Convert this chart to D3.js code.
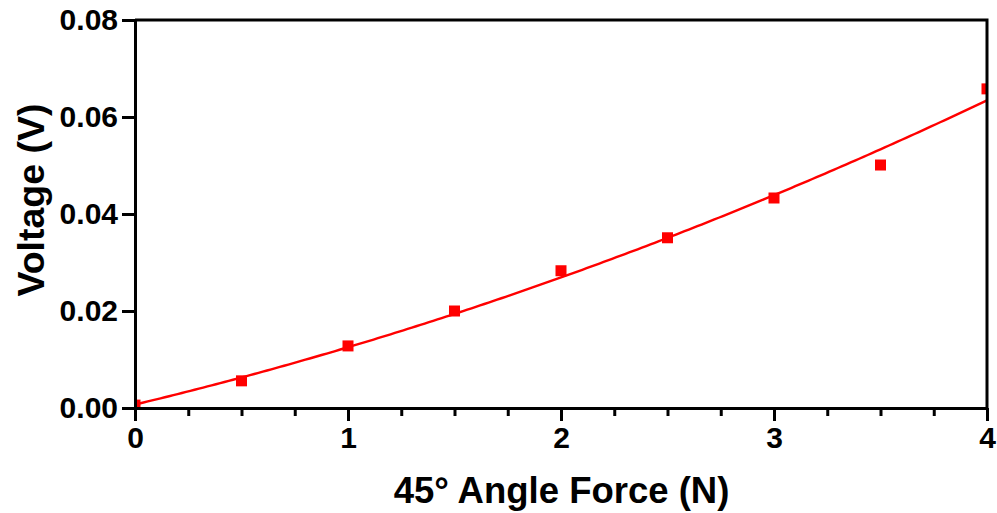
<!DOCTYPE html>
<html>
<head>
<meta charset="utf-8">
<script src="https://cdn.jsdelivr.net/npm/d3@7"></script>
<style>
  html, body { margin: 0; padding: 0; background: #fff; }
  svg { display: block; }
  text { font-family: "Liberation Sans", Arial, sans-serif; font-weight: bold; fill: #000; }
</style>
</head>
<body>
<svg id="chart" width="997" height="513"></svg>
<script>
// Measured voltage against the applied force at a 45° angle
const forceN = [0, 0.5, 1, 1.5, 2, 2.5, 3, 3.5, 4];
const voltageV = [0.0006, 0.0056, 0.0128, 0.0200, 0.0283, 0.0351, 0.0433, 0.0501, 0.0658];

const xTicks = [0, 1, 2, 3, 4];
const xMinorTicks = d3.range(0, 4.0001, 0.25);
const yTicks = [0, 0.02, 0.04, 0.06, 0.08];

const xTitle = "45° Angle Force (N)";
const yTitle = "Voltage (V)";

const svg = d3.select("#chart");
const plot = { left: 135, right: 987, top: 20, bottom: 408 };

const x = d3.scaleLinear().domain([0, 4]).range([plot.left, plot.right]);
const y = d3.scaleLinear().domain([0, 0.08]).range([plot.bottom, plot.top]);

// Second-order least-squares fit through the measurements
function quadFit(xs, ys) {
  const s = [0, 0, 0, 0, 0], t = [0, 0, 0];
  xs.forEach((xi, i) => {
    for (let k = 0; k < 5; k++) s[k] += Math.pow(xi, k);
    for (let k = 0; k < 3; k++) t[k] += ys[i] * Math.pow(xi, k);
  });
  const A = [[s[0], s[1], s[2], t[0]], [s[1], s[2], s[3], t[1]], [s[2], s[3], s[4], t[2]]];
  for (let c = 0; c < 3; c++) {
    for (let r = c + 1; r < 3; r++) {
      const f = A[r][c] / A[c][c];
      for (let k = c; k < 4; k++) A[r][k] -= f * A[c][k];
    }
  }
  const b = [0, 0, 0];
  for (let r = 2; r >= 0; r--) {
    let v = A[r][3];
    for (let k = r + 1; k < 3; k++) v -= A[r][k] * b[k];
    b[r] = v / A[r][r];
  }
  return xv => b[0] + b[1] * xv + b[2] * xv * xv;
}
const fit = quadFit(forceN, voltageV);

svg.append("defs").append("clipPath").attr("id", "plotClip")
  .append("rect")
  .attr("x", plot.left).attr("y", plot.top)
  .attr("width", plot.right - plot.left).attr("height", plot.bottom - plot.top);

const marks = svg.append("g").attr("clip-path", "url(#plotClip)");

// Fitted curve
const curveX = d3.range(0, 4.0001, 0.02);
marks.append("path")
  .datum(curveX)
  .attr("fill", "none")
  .attr("stroke", "#ff0000")
  .attr("stroke-width", 2.4)
  .attr("d", d3.line().x(d => x(d)).y(d => y(fit(d))));

// Measured points
const size = 11;
marks.selectAll("rect.pt")
  .data(forceN.map((f, i) => ({ f, v: voltageV[i] })))
  .join("rect")
  .attr("class", "pt")
  .attr("x", d => x(d.f) - size / 2)
  .attr("y", d => y(d.v) - size / 2)
  .attr("width", size)
  .attr("height", size)
  .attr("fill", "#ff0000");

// Frame: top and right borders
svg.append("path")
  .attr("d", `M${plot.left},${plot.top}H${plot.right}V${plot.bottom}`)
  .attr("fill", "none").attr("stroke", "#000").attr("stroke-width", 3);

// Bottom axis with major and quarter minor ticks
const xAxisG = svg.append("g").attr("transform", `translate(0,${plot.bottom})`);
xAxisG.append("g")
  .call(d3.axisBottom(x).tickValues(xMinorTicks).tickSize(8).tickFormat(""))
  .call(g => g.select(".domain").remove())
  .call(g => g.selectAll("line").attr("stroke-width", 3));
xAxisG.append("g")
  .call(d3.axisBottom(x).tickValues(xTicks).tickSize(13).tickSizeOuter(0).tickPadding(6).tickFormat(d3.format("d")))
  .call(g => g.select(".domain").attr("stroke-width", 3))
  .call(g => g.selectAll("line").attr("stroke-width", 3))
  .call(g => g.selectAll("text").attr("font-size", 30).attr("font-family", null));

// Left axis
svg.append("g")
  .attr("transform", `translate(${plot.left},0)`)
  .call(d3.axisLeft(y).tickValues(yTicks).tickSize(13).tickSizeOuter(0).tickPadding(4).tickFormat(d3.format(".2f")))
  .call(g => g.select(".domain").attr("stroke-width", 3))
  .call(g => g.selectAll("line").attr("stroke-width", 3))
  .call(g => g.selectAll("text").attr("font-size", 30).attr("font-family", null));

svg.selectAll(".tick text, .domain").attr("fill", function () { return this.tagName === "text" ? "#000" : "none"; });
svg.selectAll(".tick line, .domain").attr("stroke", "#000");

// Axis titles
svg.append("text")
  .attr("x", (plot.left + plot.right) / 2 + 0.5)
  .attr("y", 503)
  .attr("text-anchor", "middle")
  .attr("font-size", 36.5)
  .text(xTitle);

svg.append("text")
  .attr("transform", `translate(44,200) rotate(-90)`)
  .attr("text-anchor", "middle")
  .attr("font-size", 37.5)
  .text(yTitle);
</script>
</body>
</html>
